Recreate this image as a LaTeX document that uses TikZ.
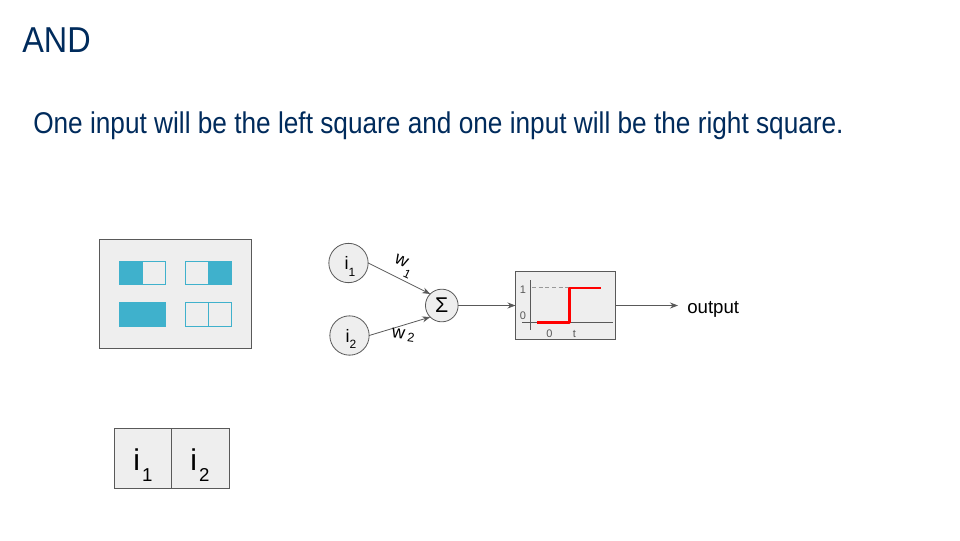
\documentclass[tikz,border=0pt]{standalone}
\usepackage{fontspec}
\setmainfont{Liberation Sans}
\newfontfamily\headfont[FakeStretch=0.9]{Liberation Sans}
\newfontfamily\bodyfont[FakeStretch=0.874]{Liberation Sans}
\usetikzlibrary{arrows.meta}
\definecolor{navy}{HTML}{002B5C}
\definecolor{panel}{HTML}{EEEEEE}
\definecolor{edge}{HTML}{595959}
\definecolor{teal}{HTML}{3FB1CC}
\newcommand{\fsz}[1]{\fontsize{#1}{#1}\selectfont}
\newcommand{\lowsub}[3]{\smash{\raisebox{-#2pt}{\fsz{#1}#3}}}
\tikzset{
 x=0.75pt,y=-0.75pt,
 panelbox/.style={draw=edge,fill=panel,line width=0.6pt,inner sep=0pt,outer sep=0pt,anchor=north west},
 neuron/.style={circle,draw=edge,fill=panel,line width=0.6pt,minimum size=29.5pt,inner sep=0pt,outer sep=0pt,font=\fsz{13.5}},
 link/.style={draw=edge,line width=0.6pt,-{Stealth[length=6pt,width=4.5pt]}},
 hollow/.style={draw=teal,line width=0.6pt},
 tinytext/.style={inner sep=0pt,text=edge,font=\fsz{8.25}},
}
\begin{document}
\begin{tikzpicture}
\useasboundingbox (0,0) rectangle (960,540);
\fill[white] (0,0) rectangle (960,540);
\node[anchor=west,inner sep=0pt,text=navy,font=\headfont\fsz{27}] (title) at (22,40) {AND};
\node[anchor=west,inner sep=0pt,text=navy,font=\bodyfont\fsz{22.5}] (body) at (33,126) {One input will be the left square and one input will be the right square.};
% stimulus panel
\node[panelbox,minimum width=114pt,minimum height=81.75pt] (stim) at (99.5,239.5) {};
\fill[teal] (119,261) rectangle (143,285);
\draw[hollow] (119.5,261.5) rectangle (165.5,284.5);
\draw[hollow] (185.5,261.5) rectangle (231.5,284.5);
\draw[hollow] (208,261.5) -- (208,284.5);
\fill[teal] (208,261) rectangle (232,285);
\fill[teal] (119,302) rectangle (166,327);
\draw[hollow] (185.5,302.5) rectangle (231.5,326.5);
\draw[hollow] (208,302.5) -- (208,326.5);
% neurons
\node[neuron] (i1) at (348.5,263) {\hspace*{2pt}i\lowsub{9}{5}{1}};
\node[neuron] (i2) at (349.5,335.5) {\hspace*{2pt}i\lowsub{9}{5}{2}};
\node[neuron,minimum size=24.5pt,font=\fsz{16}] (sum) at (441.8,305.5) {Σ};
\draw[link] (i1.east) -- (sum.north west);
\draw[link] (i2.east) -- (sum.south west);
\node[inner sep=0pt,rotate=-25,font=\fsz{13.5}] (w1) at (405,262.6) {w\hspace{0.7pt}\lowsub{9}{7}{1}};
\node[inner sep=0pt,rotate=-8,font=\fsz{13.5}] (w2) at (403.5,334.2) {w\hspace{2.2pt}\lowsub{9.5}{1.7}{2}};
% activation box
\node[panelbox,minimum width=75pt,minimum height=51pt] (act) at (515.5,271.5) {};
\draw[link] (sum.east) -- (act.west);
\coordinate (outend) at (678,305.5);
\draw[link] (act.east) -- (outend);
\node[anchor=west,inner sep=0pt,font=\fsz{14}] (out) at (687,309) {output};
\draw[edge,line width=0.5pt] (530.5,280) -- (530.5,330);
\draw[edge,line width=0.5pt] (522,322.5) -- (613,322.5);
\draw[gray!80,line width=0.6pt,dash pattern=on 3pt off 2pt] (532,287.5) -- (569,287.5);
\draw[red,line width=1.7pt,line join=round] (537,322.5) -- (569.5,322.5) -- (569.5,288) -- (601,288);
\node[tinytext] (y1) at (523,290) {1};
\node[tinytext] (y0) at (523,316) {0};
\node[tinytext] (x0) at (549.5,334) {0};
\node[tinytext] (xt) at (574.5,334) {t};
% bottom key
\node[panelbox,minimum width=42.75pt,minimum height=45pt] (k1) at (114.5,428.5) {};
\node[panelbox,minimum width=43.5pt,minimum height=45pt] (k2) at (171.5,428.5) {};
\node[inner sep=0pt,font=\fsz{22.5}] (k1t) at (143,459.7) {i\hspace{1.5pt}\lowsub{14}{8.5}{1}};
\node[inner sep=0pt,font=\fsz{22.5}] (k2t) at (200,459.7) {i\hspace{1.5pt}\lowsub{14}{8.5}{2}};
\end{tikzpicture}
\end{document}
